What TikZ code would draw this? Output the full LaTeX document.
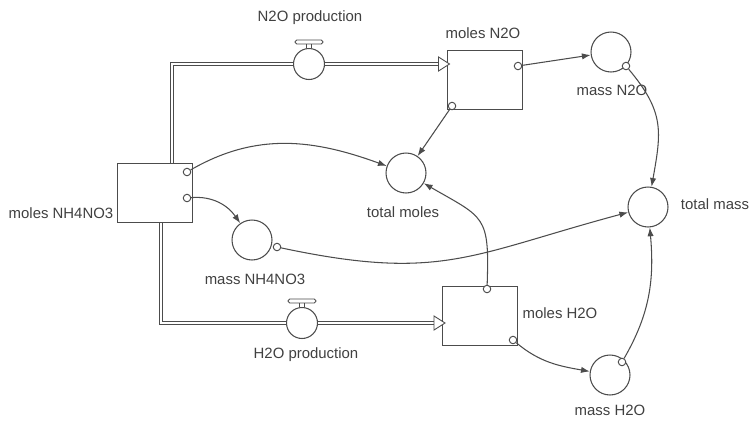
\documentclass[tikz,border=0pt]{standalone}
\usepackage{fontspec}
\setmainfont{Liberation Sans}
\usepackage{tikz}
\usetikzlibrary{arrows.meta, positioning, calc}
\definecolor{ink}{gray}{0.3}
\definecolor{txt}{gray}{0.25}

\begin{document}
\begin{tikzpicture}[x=0.02cm, y=0.02cm, font=\fontsize{8.5}{10}\selectfont, text=txt,
  stock/.style={draw=ink, line width=0.55pt, rectangle, minimum width=1.5cm, minimum height=1.18cm, inner sep=0},
  conv/.style={draw=ink, line width=0.6pt, circle, minimum size=0.8cm, inner sep=0},
  valve/.style={draw=ink, line width=0.6pt, circle, minimum size=0.62cm, inner sep=0, fill=white},
  tap/.style={draw=ink, line width=0.55pt, circle, minimum size=0.15cm, inner sep=0, fill=white},
  pipe/.style={draw=ink, line width=0.5pt, double=white, double distance=1.3pt},
  link/.style={draw=ink, line width=0.6pt, -{Latex[length=5pt, width=3.6pt]}},
  lbl/.style={inner sep=1pt}]
  \useasboundingbox (0,0) rectangle (750,424);
  % Stocks
  \node[stock] (nh4) at (154.5,231) {};
  \node[stock] (n2o) at (484.5,344) {};
  \node[stock] (h2o) at (480,108.5) {};
  % Flow valves
  \node[valve] (vN2O) at (309,360) {};
  \node[valve] (vH2O) at (302,101) {};
  % Converters
  \node[conv] (mN2O) at (611,372) {};
  \node[conv] (tmoles) at (406,251) {};
  \node[conv] (mNH4) at (252,184) {};
  \node[conv] (tmass) at (648,217) {};
  \node[conv] (mH2O) at (610,49) {};
  % Labels
  \node[lbl] (lnh4) at (61,211) {moles NH4NO3};
  \node[lbl] (ln2o) at (483,391) {moles N2O};
  \node[lbl] (lh2o) at (560,111) {moles H2O};
  \node[lbl] (lvN2O) at (310,406) {N2O production};
  \node[lbl] (lvH2O) at (306,69) {H2O production};
  \node[lbl] (lmN2O) at (612,334) {mass N2O};
  \node[lbl] (ltmoles) at (403,212) {total moles};
  \node[lbl] (lmNH4) at (255,145) {mass NH4NO3};
  \node[lbl] (ltmass) at (715,220) {total mass};
  \node[lbl] (lmH2O) at (610,14) {mass H2O};
  % Flow pipes
  \coordinate (nh4up) at (172,261);
  \coordinate (nh4dn) at (161,201);
  \draw[pipe] (nh4up) |- (vN2O.west);
  \draw[pipe] (vN2O.east) -- (vN2O.east -| n2o.west);
  \draw[pipe] (nh4dn) |- (vH2O.west);
  \draw[pipe] (vH2O.east) -- (vH2O.east -| h2o.west);
  \foreach \v/\s in {vN2O/n2o, vH2O/h2o} {
    \draw[draw=ink, line width=0.5pt, fill=white]
      ([xshift=0.06cm]\v.east -| \s.west) -- ++(-11,7) -- ++(0,-14) -- cycle;
    % valve handle
    \draw[ink, line width=0.5pt] ([shift={(-2.5,0)}]\v.north) -- ++(0,4);
    \draw[ink, line width=0.5pt] ([shift={(2.5,0)}]\v.north) -- ++(0,4);
    \draw[ink, line width=0.5pt, fill=white, rounded corners=1pt]
      ([shift={(-14,4)}]\v.north) rectangle ++(28,4);
  }
  % Connector taps
  \foreach \tname/\tpos in {nh4a/{(187,252)}, nh4b/{(187,226)}, n2oR/{(518,358)},
      n2oB/{(452,318)}, h2oT/{(487,135)}, h2oB/{(513,84)}, mN2Ot/{(626,358)},
      mNH4t/{(277,177)}, mH2Ot/{(622,62)}}
    \node[tap] (\tname) at \tpos {};
  % Connectors
  \draw[link] (n2oR) -- (mN2O);
  \draw[link] (n2oB) -- (tmoles);
  \draw[link] (nh4a) to[out=30, in=160] (tmoles);
  \draw[link] (nh4b) to[out=5, in=125] (mNH4);
  \draw[link] (mNH4t) to[out=-12, in=195, looseness=1.2] (tmass);
  \draw[link] (mN2Ot) to[out=-50, in=80, looseness=1.2] (tmass);
  \draw[link] (mH2Ot) to[out=60, in=-85] (tmass);
  \draw[link] (h2oT) to[out=88, in=-30, looseness=1.5] (tmoles);
  \draw[link] (h2oB) to[out=-40, in=170] (mH2O);
\end{tikzpicture}
\end{document}
